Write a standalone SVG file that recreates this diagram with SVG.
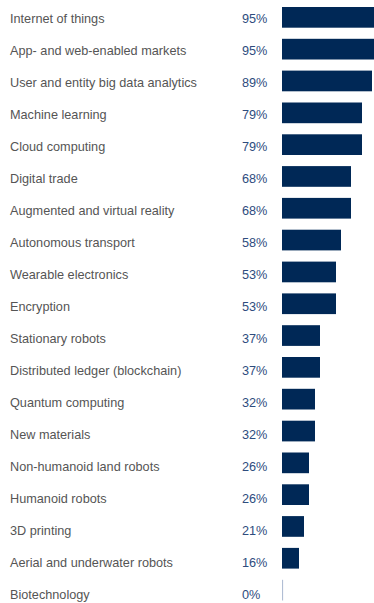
<svg xmlns="http://www.w3.org/2000/svg" width="374" height="603" viewBox="0 0 374 603">
<style>
.lbl{font-family:"Liberation Sans",Arial,sans-serif;font-size:12.7px;fill:#555555}
.pct{font-family:"Liberation Sans",Arial,sans-serif;font-size:12.7px;fill:#2e4c7e}
.bar{fill:#002856}
</style>
<rect width="374" height="603" fill="#ffffff"/>
<g id="row-iot"><text class="lbl" x="10" y="22.7">Internet of things</text><text class="pct" x="242" y="22.7">95%</text><rect class="bar" x="282" y="7" width="92" height="20.7"/></g>
<g id="row-app"><text class="lbl" x="10" y="54.7">App- and web-enabled markets</text><text class="pct" x="242" y="54.7">95%</text><rect class="bar" x="282" y="38.8" width="92" height="20.7"/></g>
<g id="row-bigdata"><text class="lbl" x="10" y="86.7">User and entity big data analytics</text><text class="pct" x="242" y="86.7">89%</text><rect class="bar" x="282" y="70.6" width="90" height="20.7"/></g>
<g id="row-ml"><text class="lbl" x="10" y="118.7">Machine learning</text><text class="pct" x="242" y="118.7">79%</text><rect class="bar" x="282" y="102.5" width="80" height="20.7"/></g>
<g id="row-cloud"><text class="lbl" x="10" y="150.7">Cloud computing</text><text class="pct" x="242" y="150.7">79%</text><rect class="bar" x="282" y="134.3" width="80" height="20.7"/></g>
<g id="row-trade"><text class="lbl" x="10" y="182.7">Digital trade</text><text class="pct" x="242" y="182.7">68%</text><rect class="bar" x="282" y="166.1" width="69" height="20.7"/></g>
<g id="row-ar"><text class="lbl" x="10" y="214.7">Augmented and virtual reality</text><text class="pct" x="242" y="214.7">68%</text><rect class="bar" x="282" y="197.9" width="69" height="20.7"/></g>
<g id="row-auto"><text class="lbl" x="10" y="246.7">Autonomous transport</text><text class="pct" x="242" y="246.7">58%</text><rect class="bar" x="282" y="229.7" width="59" height="20.7"/></g>
<g id="row-wear"><text class="lbl" x="10" y="278.7">Wearable electronics</text><text class="pct" x="242" y="278.7">53%</text><rect class="bar" x="282" y="261.6" width="54" height="20.7"/></g>
<g id="row-enc"><text class="lbl" x="10" y="310.7">Encryption</text><text class="pct" x="242" y="310.7">53%</text><rect class="bar" x="282" y="293.4" width="54" height="20.7"/></g>
<g id="row-stat"><text class="lbl" x="10" y="342.7">Stationary robots</text><text class="pct" x="242" y="342.7">37%</text><rect class="bar" x="282" y="325.2" width="38" height="20.7"/></g>
<g id="row-ledger"><text class="lbl" x="10" y="374.7">Distributed ledger (blockchain)</text><text class="pct" x="242" y="374.7">37%</text><rect class="bar" x="282" y="357" width="38" height="20.7"/></g>
<g id="row-quantum"><text class="lbl" x="10" y="406.7">Quantum computing</text><text class="pct" x="242" y="406.7">32%</text><rect class="bar" x="282" y="388.8" width="33" height="20.7"/></g>
<g id="row-materials"><text class="lbl" x="10" y="438.7">New materials</text><text class="pct" x="242" y="438.7">32%</text><rect class="bar" x="282" y="420.7" width="33" height="20.7"/></g>
<g id="row-nonhum"><text class="lbl" x="10" y="470.7">Non-humanoid land robots</text><text class="pct" x="242" y="470.7">26%</text><rect class="bar" x="282" y="452.5" width="27" height="20.7"/></g>
<g id="row-hum"><text class="lbl" x="10" y="502.7">Humanoid robots</text><text class="pct" x="242" y="502.7">26%</text><rect class="bar" x="282" y="484.3" width="27" height="20.7"/></g>
<g id="row-3d"><text class="lbl" x="10" y="534.7">3D printing</text><text class="pct" x="242" y="534.7">21%</text><rect class="bar" x="282" y="516.1" width="22" height="20.7"/></g>
<g id="row-aerial"><text class="lbl" x="10" y="566.7">Aerial and underwater robots</text><text class="pct" x="242" y="566.7">16%</text><rect class="bar" x="282" y="547.9" width="17" height="20.7"/></g>
<g id="row-bio"><text class="lbl" x="10" y="598.7">Biotechnology</text><text class="pct" x="242" y="598.7">0%</text><line x1="282.6" y1="579.8" x2="282.6" y2="600.5" stroke="#a9b8d0" stroke-width="1"/></g>
</svg>
